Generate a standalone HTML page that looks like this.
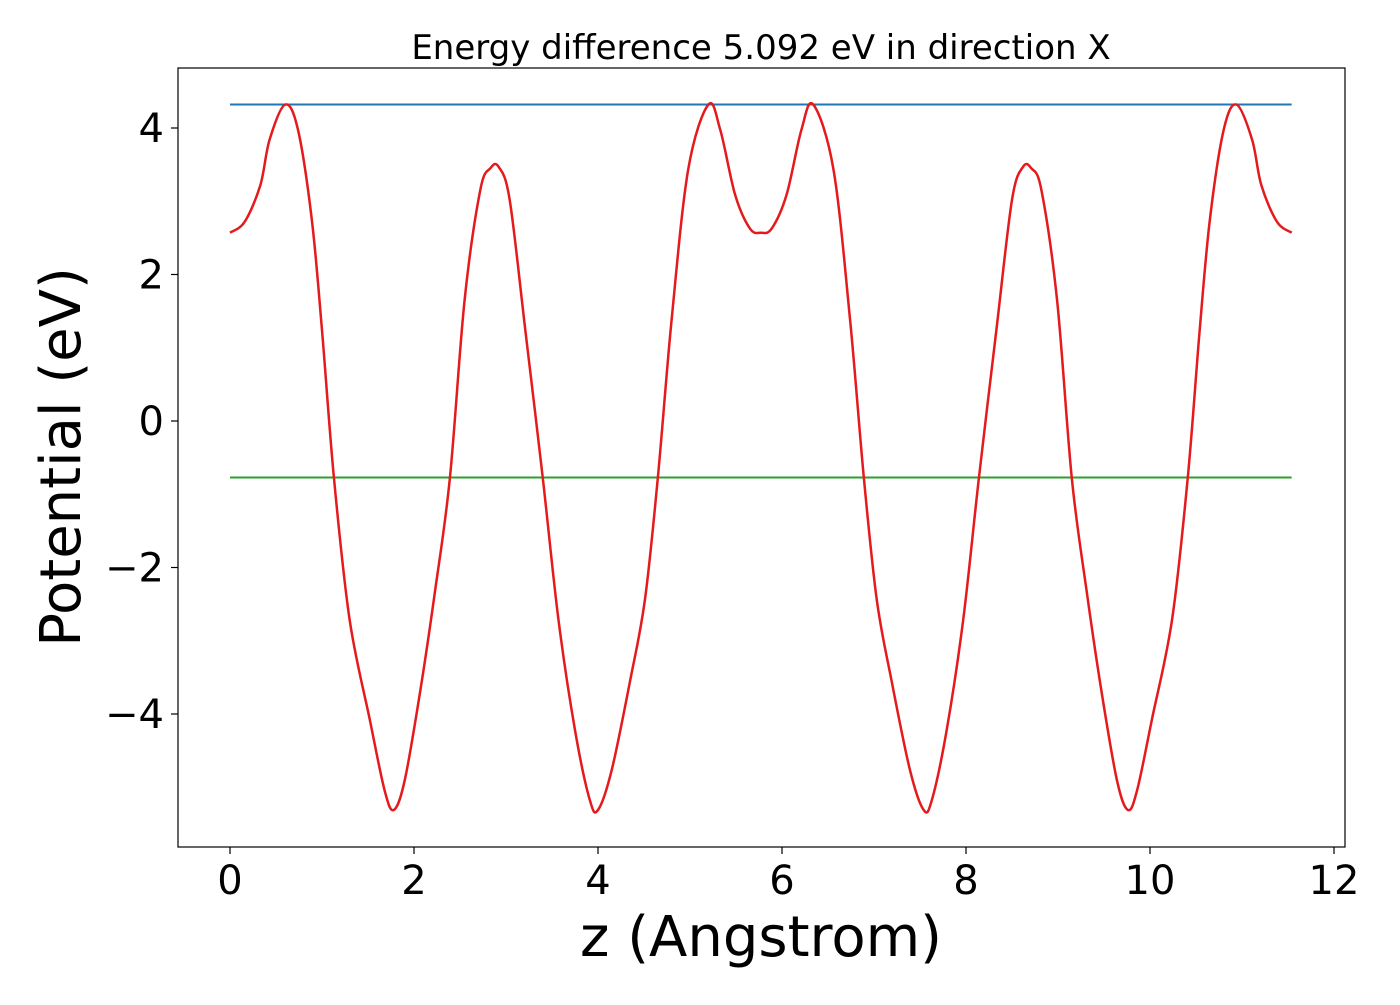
<!DOCTYPE html>
<html><head><meta charset="utf-8"><style>
body{margin:0;background:#fff;}
svg text{font-family:"DejaVu Sans","Liberation Sans",sans-serif;fill:#000;}
</style></head><body>
<svg id="chart" width="1400" height="1000" viewBox="0 0 1400 1000" xmlns="http://www.w3.org/2000/svg">
<rect width="1400" height="1000" fill="#fff"/>
<text x="761" y="59" font-size="34" text-anchor="middle">Energy difference 5.092 eV in direction X</text>
<g id="lines"></g>
<rect x="178" y="68" width="1167" height="779" fill="none" stroke="#000" stroke-width="1.2"/>
<g id="xticks"></g><g id="yticks"></g>
<text x="761" y="956" font-size="56" text-anchor="middle">z (Angstrom)</text>
<text transform="translate(80,457) rotate(-90)" font-size="56" text-anchor="middle">Potential (eV)</text>
</svg>
<script>
const zValues=[0,0.16,0.33,0.43,0.60,0.74,0.89,1.0,1.13,1.30,1.52,1.68,1.78,1.90,2.07,2.23,2.39,2.55,2.72,2.83,2.92,3.04,3.21,3.40,3.57,3.75,3.91,4.0,4.15,4.35,4.51,4.65,4.80,4.98,5.20,5.33,5.49,5.65,5.77,5.89,6.05,6.21,6.34,6.56,6.74,6.89,7.03,7.19,7.39,7.54,7.63,7.79,7.97,8.14,8.33,8.50,8.62,8.71,8.82,8.99,9.15,9.31,9.47,9.64,9.76,9.86,10.02,10.24,10.41,10.54,10.65,10.80,10.94,11.11,11.21,11.38,11.54];
const potential=[2.57,2.72,3.22,3.84,4.32,3.97,2.74,1.24,-0.78,-2.71,-4.08,-5.04,-5.31,-4.90,-3.67,-2.31,-0.78,1.65,3.15,3.45,3.47,3.02,1.24,-0.78,-2.71,-4.22,-5.17,-5.31,-4.76,-3.54,-2.44,-0.78,1.38,3.43,4.32,3.97,3.09,2.63,2.57,2.63,3.09,3.97,4.32,3.43,1.38,-0.78,-2.44,-3.54,-4.76,-5.31,-5.17,-4.22,-2.71,-0.78,1.24,3.02,3.47,3.45,3.15,1.65,-0.78,-2.31,-3.67,-4.90,-5.31,-5.04,-4.08,-2.71,-0.78,1.24,2.74,3.97,4.32,3.84,3.22,2.72,2.57];
const vacuumLevel=4.32;
const fermiLevel=-0.772;
const xTicks=[0,2,4,6,8,10,12];
const yTicks=[-4,-2,0,2,4];
const xs=v=>230+v*92;
const ys=v=>421-v*73.25;
const NS="http://www.w3.org/2000/svg";
const lines=document.getElementById('lines');
function mk(tag,attrs,parent){const e=document.createElementNS(NS,tag);for(const k in attrs)e.setAttribute(k,attrs[k]);parent.appendChild(e);return e;}
const x0=xs(zValues[0]),x1=xs(zValues[zValues.length-1]);
const b=mk('line',{x1:x0,x2:x1,y1:ys(vacuumLevel),y2:ys(vacuumLevel),stroke:'#1f77b4','stroke-width':2},lines);


const g=mk('line',{x1:x0,x2:x1,y1:ys(fermiLevel),y2:ys(fermiLevel),stroke:'#2ca02c','stroke-width':2},lines);


const P=zValues.map((z,i)=>[xs(z),ys(potential[i])]);
let d='M'+P[0][0]+','+P[0][1];
for(let i=0;i<P.length-1;i++){const p0=P[Math.max(0,i-1)],p1=P[i],p2=P[i+1],p3=P[Math.min(P.length-1,i+2)];
d+=' C'+(p1[0]+(p2[0]-p0[0])/6)+','+(p1[1]+(p2[1]-p0[1])/6)+' '+(p2[0]-(p3[0]-p1[0])/6)+','+(p2[1]-(p3[1]-p1[1])/6)+' '+p2[0]+','+p2[1];}
const r=mk('path',{d:d,fill:'none',stroke:'#e41a1c','stroke-width':2.5},lines);


const xt=document.getElementById('xticks');
xTicks.forEach(t=>{const l=mk('line',{x1:xs(t),x2:xs(t),y1:847,y2:854,stroke:'#000','stroke-width':1.2},xt);


const tx=mk('text',{x:xs(t),y:894,'font-size':40,'text-anchor':'middle'},xt);tx.textContent=String(t);

});
const yt=document.getElementById('yticks');
yTicks.forEach(t=>{const l=mk('line',{x1:171,x2:178,y1:ys(t),y2:ys(t),stroke:'#000','stroke-width':1.2},yt);


const tx=mk('text',{x:164,y:ys(t)+14,'font-size':40,'text-anchor':'end'},yt);tx.textContent=t<0?'\u2212'+Math.abs(t):String(t);

});
</script>
</body></html>
